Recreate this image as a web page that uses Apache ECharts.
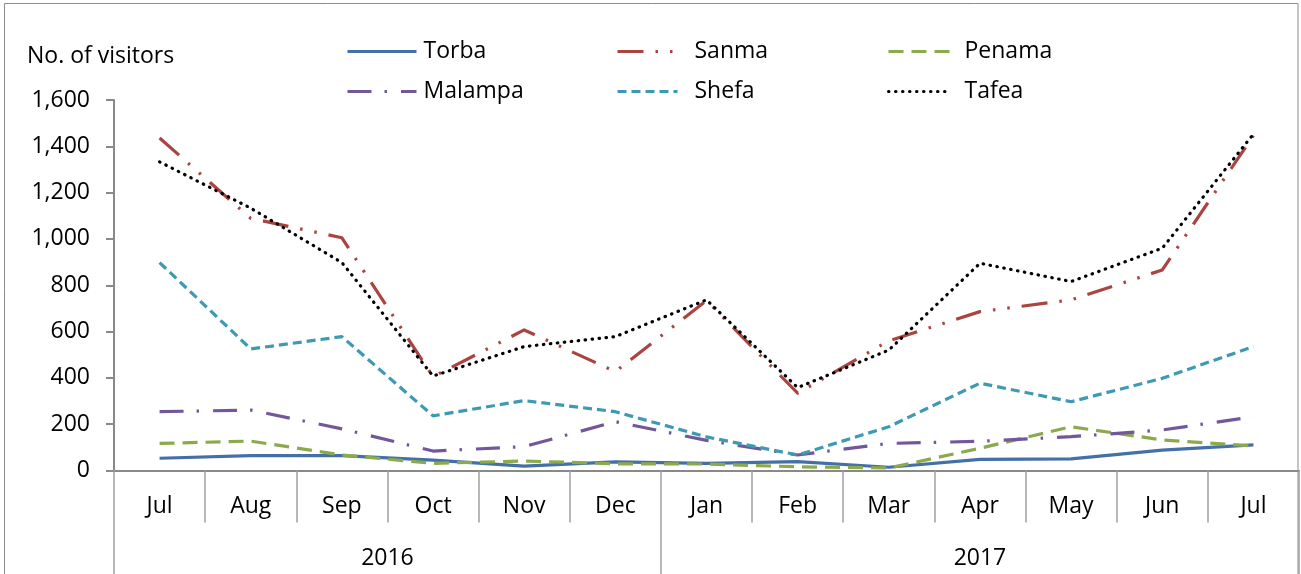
<!DOCTYPE html>
<html>
<head>
<meta charset="utf-8">
<script src="https://cdn.jsdelivr.net/npm/echarts@6/dist/echarts.min.js"></script>
<style>html,body{margin:0;padding:0;background:#fff;}#c{width:1301px;height:574px;}</style>
</head>
<body>
<div id="c"></div>
<script>
const months = ['Jul','Aug','Sep','Oct','Nov','Dec','Jan','Feb','Mar','Apr','May','Jun','Jul'];
const years = ['2016','2017'];
const yearBounds = [0, 6, 13];
const yearCenters = [3, 9.5];
const yTicks = [0, 200, 400, 600, 800, 1000, 1200, 1400, 1600];

const torba   = [53, 64, 64, 45, 19, 37, 31, 38, 14, 48, 50, 88, 111];
const sanma   = [1436, 1089, 1005, 405, 607, 427, 734, 334, 560, 686, 737, 866, 1446];
const penama  = [117, 127, 67, 31, 41, 29, 28, 16, 11, 96, 189, 132, 106];
const malampa = [254, 261, 180, 84, 103, 211, 130, 67, 117, 126, 146, 175, 232];
const shefa   = [898, 525, 578, 236, 302, 254, 145, 67, 189, 377, 297, 398, 535];
const tafea   = [1333, 1133, 898, 408, 535, 578, 737, 358, 520, 895, 816, 960, 1453];

const FONT = 'Open Sans';
const FS = 23;

const seriesDefs = [
  {name:'Torba',   data:torba,   color:'#4470A8', type:'solid', cap:'butt'},
  {name:'Sanma',   data:sanma,   color:'#AA4440', type:[26,12,2.5,12,2.5,12], cap:'butt'},
  {name:'Penama',  data:penama,  color:'#8CAA4C', type:[15,8], cap:'butt'},
  {name:'Malampa', data:malampa, color:'#72579A', type:[24,13,2.5,14], cap:'butt'},
  {name:'Shefa',   data:shefa,   color:'#3E9AB2', type:[9,5], cap:'butt'},
  {name:'Tafea',   data:tafea,   color:'#000000', type:[0.5,6.5], cap:'round'}
];

const legendPos = [
  {left:346, top:40, w:69, pad:2},
  {left:616, top:40, w:60, pad:12},
  {left:887, top:40, w:63, pad:8},
  {left:346, top:80, w:69, pad:2},
  {left:616, top:80, w:60, pad:12},
  {left:887, top:80, w:63, pad:8}
];

const chart = echarts.init(document.getElementById('c'));
chart.setOption({
  animation:false,
  backgroundColor:'#fff',
  title:{text:'No. of visitors', left:27, top:45, padding:0,
    textStyle:{fontFamily:FONT, fontSize:FS, fontWeight:'normal', color:'#000'}},
  graphic:[{type:'rect', shape:{x:4.5, y:3.5, width:1293.5, height:620},
    style:{fill:'none', stroke:'#8c8c8c', lineWidth:1}, silent:true}],
  legend: seriesDefs.map((s,i)=>({
    data:[s.name], left:legendPos[i].left, top:legendPos[i].top, padding:0,
    itemWidth:legendPos[i].w, itemHeight:14,
    itemStyle:{opacity:0},
    lineStyle:{width:3},
    textStyle:{fontFamily:FONT, fontSize:FS, color:'#000', padding:[0,0,0,legendPos[i].pad]}
  })),
  grid:{left:114, right:2, top:100, bottom:103.5, containLabel:false},
  xAxis:[
    {type:'category', data:months, boundaryGap:true,
      axisLine:{show:true, lineStyle:{color:'#898989', width:2}},
      axisTick:{show:true, interval:0, length:52, lineStyle:{color:'#a0a0a0', width:1.5}},
      axisLabel:{interval:0, margin:24, fontFamily:FONT, fontSize:FS, color:'#000'}},
    {type:'value', min:0, max:13, position:'bottom', gridIndex:0,
      axisLine:{show:false},
      splitLine:{show:false},
      axisTick:{show:true, customValues:yearBounds, length:104, lineStyle:{color:'#a0a0a0', width:1.5}},
      axisLabel:{show:true, customValues:yearCenters, margin:76, fontFamily:FONT, fontSize:FS, color:'#000',
        formatter:v=> (v < 6 ? years[0] : years[1])}}
  ],
  yAxis:{type:'value', min:yTicks[0], max:yTicks[yTicks.length-1], interval:200,
    axisLine:{show:true, lineStyle:{color:'#898989', width:2}},
    axisTick:{show:true, length:8, lineStyle:{color:'#898989', width:2}},
    splitLine:{show:false},
    axisLabel:{margin:24, fontFamily:FONT, fontSize:FS, color:'#000',
      formatter:v=>v.toLocaleString('en-US')}},
  series: seriesDefs.map(s=>({
    name:s.name, type:'line', data:s.data, xAxisIndex:0, symbol:'none',
    color:s.color,
    lineStyle:{color:s.color, width:3.2, type:s.type, cap:s.cap, join:'round'},
    itemStyle:{color:s.color}
  }))
});
</script>
</body>
</html>
